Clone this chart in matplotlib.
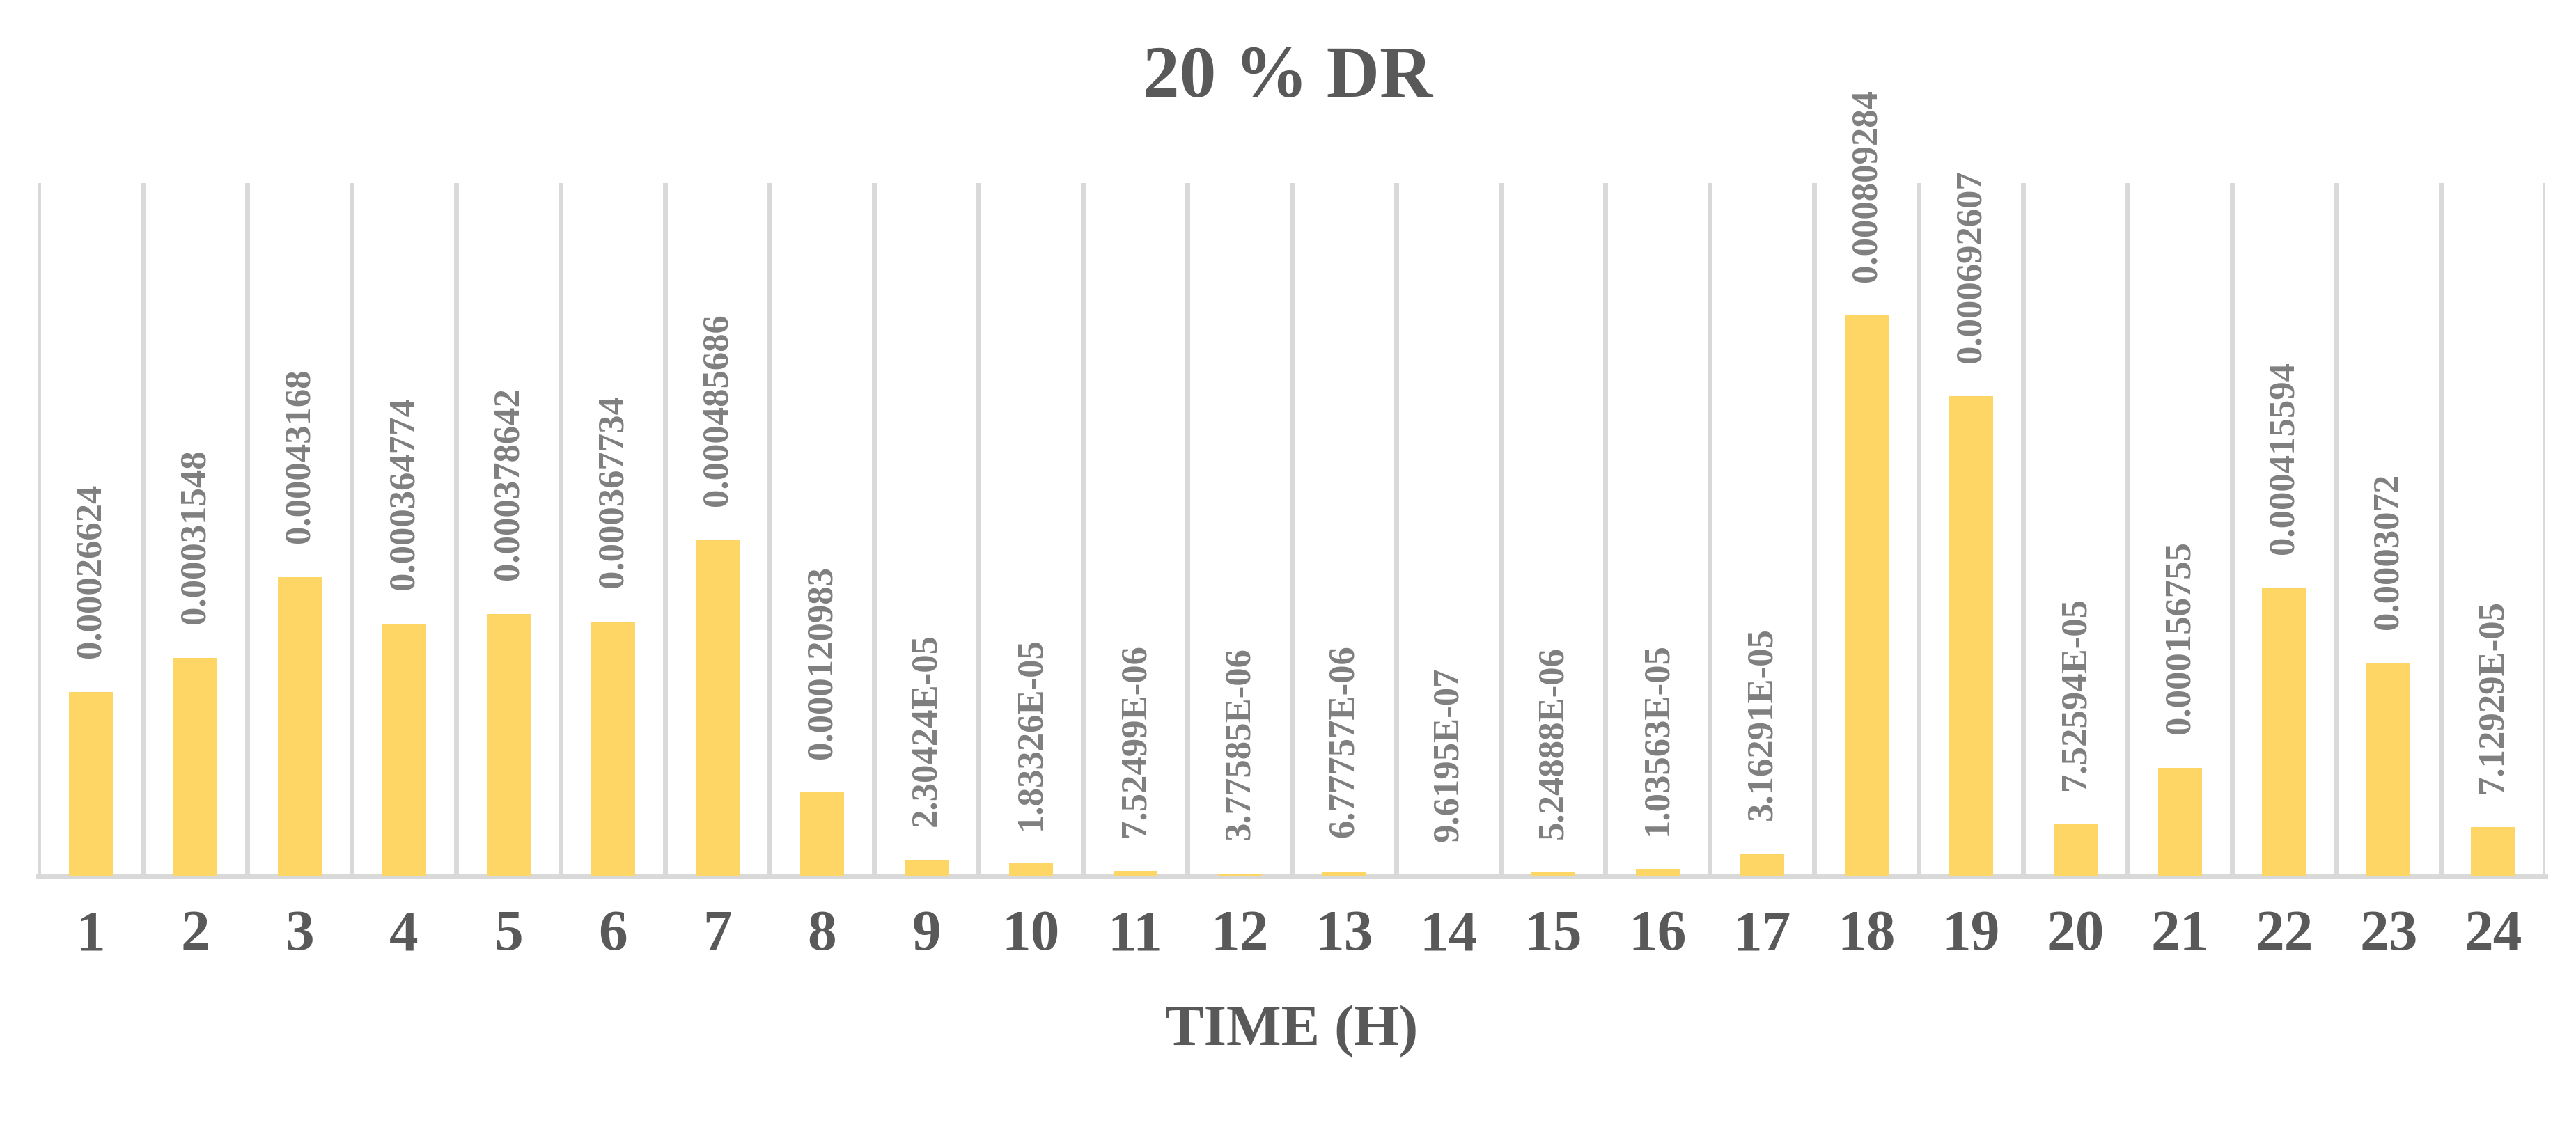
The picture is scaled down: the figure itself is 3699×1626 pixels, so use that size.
import matplotlib
matplotlib.use("Agg")
import matplotlib.pyplot as plt

hours = [str(i) for i in range(1, 25)]
values = [0.00026624, 0.00031548, 0.00043168, 0.00036477, 0.00037864, 0.00036773,
          0.00048569, 0.00012098, 2.30424e-05, 1.83326e-05, 7.52499e-06, 3.77585e-06,
          6.77757e-06, 9.6195e-07, 5.24888e-06, 1.03563e-05, 3.16291e-05, 0.00080928,
          0.00069261, 7.52594e-05, 0.00015676, 0.00041559, 0.0003072, 7.12929e-05]
labels = ["0.00026624", "0.00031548", "0.00043168", "0.000364774", "0.000378642",
          "0.000367734", "0.000485686", "0.000120983", "2.30424E-05", "1.83326E-05",
          "7.52499E-06", "3.77585E-06", "6.77757E-06", "9.6195E-07", "5.24888E-06",
          "1.03563E-05", "3.16291E-05", "0.000809284", "0.000692607", "7.52594E-05",
          "0.000156755", "0.000415594", "0.0003072", "7.12929E-05"]

plt.rcParams['font.family'] = ['Liberation Serif', 'DejaVu Serif']
fig = plt.figure(figsize=(36.99, 16.26), dpi=100)
ax = fig.add_axes([0.0149, 0.226, 0.9732, 0.612])
x = list(range(len(hours)))
ax.bar(x, values, width=0.42, color='#FDD666', zorder=3)
for xi, v, lab in zip(x, values, labels):
    ax.annotate(lab, (xi, v), xytext=(0, 35), textcoords='offset points',
                rotation=90, ha='center', va='bottom', fontsize=38,
                fontweight='bold', color='#7F7F7F')
ax.set_xlim(-0.5, len(hours) - 0.5)
ax.set_ylim(0, 0.001)
for b in range(len(hours) + 1):
    ax.axvline(b - 0.5, color='#D9D9D9', lw=5, zorder=1)
for s in ['top', 'right', 'left']:
    ax.spines[s].set_visible(False)
ax.spines['bottom'].set_color('#D9D9D9')
ax.spines['bottom'].set_linewidth(5)
ax.set_yticks([])
ax.set_xticks(x)
ax.set_xticklabels(hours, fontsize=60, fontweight='bold', color='#595959')
ax.tick_params(axis='x', length=0, pad=35)
ax.set_xlabel('TIME (H)', fontsize=60, fontweight='bold', color='#595959', labelpad=45)
fig.text(0.5, 0.93, '20 % DR', ha='center', va='center', fontsize=76,
         fontweight='bold', color='#595959')
fig.savefig('out.png', dpi=100)
